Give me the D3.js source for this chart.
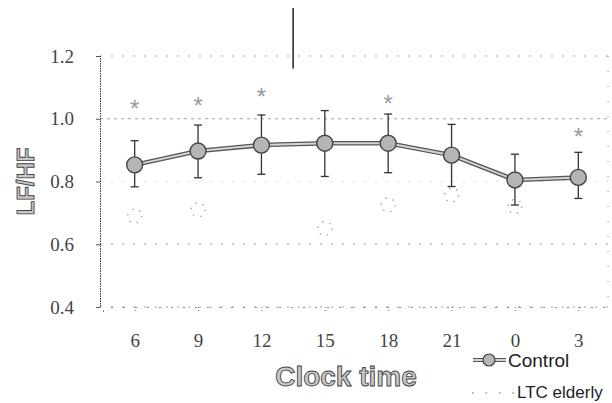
<!DOCTYPE html>
<html>
<head>
<meta charset="utf-8">
<script src="https://cdn.jsdelivr.net/npm/d3@7"></script>
<style>
  body { margin: 0; background: #fff; }
  svg { display: block; }
</style>
</head>
<body>
<svg id="chart" width="612" height="403"></svg>
<script>
// clock hours on the x axis
const hours = ['6', '9', '12', '15', '18', '21', '0', '3']
// Control: mean LF/HF and error bar ends
const controlMean = [0.853, 0.897, 0.916, 0.922, 0.922, 0.884, 0.805, 0.813]
const controlHigh = [0.930, 0.980, 1.012, 1.026, 1.015, 0.982, 0.887, 0.893]
const controlLow  = [0.783, 0.812, 0.823, 0.816, 0.828, 0.784, 0.725, 0.746]
// LTC elderly (barely visible in the scan)
const ltcMean = [0.69, 0.71, null, 0.65, 0.725, 0.757, 0.72, null]
// significance marks and their heights
const starHours = ['6', '9', '12', '18', '3']
const starLevel = [1.044, 1.054, 1.081, 1.060, 0.953]
const yTicks = [0.4, 0.6, 0.8, 1.0, 1.2]

const svg = d3.select('#chart')

const x = d3.scalePoint().domain(hours).range([103, 610]).padding(0.5)
const y = d3.scaleLinear().domain([0.4, 1.2]).range([307, 56])

// grid lines (dotted, washed out like the scan)
svg.append('g')
    .selectAll('line')
    .data(yTicks)
    .join('line')
    .attr('x1', 100).attr('x2', 608)
    .attr('y1', d => y(d)).attr('y2', d => y(d))
    .attr('stroke', '#777')
    .attr('stroke-width', 1)
    .attr('stroke-dasharray', d => d === 1.0 ? '3,4' : '2,9')
    .attr('opacity', d => d === 0.8 ? 0.25 : 0.7)

// right edge, very faint
svg.append('line')
    .attr('x1', 608).attr('x2', 608)
    .attr('y1', y(1.2)).attr('y2', y(0.4))
    .attr('stroke', '#888').attr('stroke-dasharray', '1,14')

// y axis
const yAxis = svg.append('g')
    .attr('transform', 'translate(100,0)')
    .call(d3.axisLeft(y).tickValues(yTicks).tickFormat(d3.format('.1f')).tickSize(4).tickPadding(22))
yAxis.select('.domain')
    .attr('stroke', '#333').attr('stroke-dasharray', '1.5,1')
yAxis.selectAll('.tick line').attr('stroke', '#555')
yAxis.selectAll('.tick text')
    .attr('font-family', 'Liberation Serif, serif')
    .attr('font-size', 19)
    .attr('fill', '#444')

// x axis
const xAxis = svg.append('g')
    .attr('transform', `translate(0,${y(0.4)})`)
    .call(d3.axisBottom(x).tickSize(5).tickPadding(22))
xAxis.select('.domain')
    .attr('stroke', '#888').attr('stroke-dasharray', '2,10')
xAxis.selectAll('.tick line').attr('stroke', '#777').attr('stroke-dasharray', '1,2')
xAxis.selectAll('.tick text')
    .attr('font-family', 'Liberation Serif, serif')
    .attr('font-size', 19)
    .attr('fill', '#444')

// stray vertical mark from the scan
svg.append('line')
    .attr('x1', (x('12') + x('15')) / 2).attr('x2', (x('12') + x('15')) / 2)
    .attr('y1', 8).attr('y2', y(1.16))
    .attr('stroke', '#222').attr('stroke-width', 1.5)

// LTC elderly ghost points
const ltc = hours.map((h, i) => ({ h, v: ltcMean[i] })).filter(d => d.v != null)
svg.append('g')
    .selectAll('circle')
    .data(ltc)
    .join('circle')
    .attr('cx', d => x(d.h)).attr('cy', d => y(d.v))
    .attr('r', 7)
    .attr('fill', 'none')
    .attr('stroke', '#999')
    .attr('stroke-width', 1.2)
    .attr('stroke-dasharray', '1.5,6')

// error bars
const ctrl = hours.map((h, i) => ({ h, v: controlMean[i], hi: controlHigh[i], lo: controlLow[i] }))
const eb = svg.append('g').attr('stroke', '#333').attr('stroke-width', 1.3)
eb.selectAll('.stem')
    .data(ctrl)
    .join('line')
    .attr('x1', d => x(d.h)).attr('x2', d => x(d.h))
    .attr('y1', d => y(d.hi)).attr('y2', d => y(d.lo))
eb.selectAll('.capHi')
    .data(ctrl)
    .join('line')
    .attr('x1', d => x(d.h) - 4).attr('x2', d => x(d.h) + 4)
    .attr('y1', d => y(d.hi)).attr('y2', d => y(d.hi))
eb.selectAll('.capLo')
    .data(ctrl)
    .join('line')
    .attr('x1', d => x(d.h) - 4).attr('x2', d => x(d.h) + 4)
    .attr('y1', d => y(d.lo)).attr('y2', d => y(d.lo))

// control line: dark outline with light core
const line = d3.line().x(d => x(d.h)).y(d => y(d.v))
svg.append('path').datum(ctrl)
    .attr('d', line).attr('fill', 'none')
    .attr('stroke', '#555').attr('stroke-width', 4.5)
svg.append('path').datum(ctrl)
    .attr('d', line).attr('fill', 'none')
    .attr('stroke', '#d4d4d4').attr('stroke-width', 2)

svg.append('g')
    .selectAll('circle')
    .data(ctrl)
    .join('circle')
    .attr('cx', d => x(d.h)).attr('cy', d => y(d.v))
    .attr('r', 8)
    .attr('fill', '#b5b5b5')
    .attr('stroke', '#444')
    .attr('stroke-width', 1.4)

// asterisks
svg.append('g')
    .selectAll('text')
    .data(starHours.map((h, i) => ({ h, v: starLevel[i] })))
    .join('text')
    .attr('x', d => x(d.h)).attr('y', d => y(d.v) + 12)
    .attr('text-anchor', 'middle')
    .attr('font-family', 'Liberation Sans, sans-serif')
    .attr('font-size', 24)
    .attr('fill', '#999')
    .text('*')

// axis titles
svg.append('text')
    .attr('transform', `translate(34,${y(0.8)}) rotate(-90)`)
    .attr('text-anchor', 'middle')
    .attr('font-family', 'Liberation Sans, sans-serif')
    .attr('font-weight', 'bold')
    .attr('font-size', 24)
    .attr('fill', '#c8c8c8')
    .attr('stroke', '#444')
    .attr('stroke-width', 0.9)
    .text('LF/HF')

svg.append('text')
    .attr('x', 346).attr('y', 386)
    .attr('text-anchor', 'middle')
    .attr('font-family', 'Liberation Sans, sans-serif')
    .attr('font-weight', 'bold')
    .attr('font-size', 28)
    .attr('fill', '#c8c8c8')
    .attr('stroke', '#444')
    .attr('stroke-width', 0.9)
    .text('Clock time')

// legend
const lg = svg.append('g')
lg.append('line')
    .attr('x1', 473).attr('x2', 506).attr('y1', 360).attr('y2', 360)
    .attr('stroke', '#555').attr('stroke-width', 4)
lg.append('line')
    .attr('x1', 473).attr('x2', 506).attr('y1', 360).attr('y2', 360)
    .attr('stroke', '#d4d4d4').attr('stroke-width', 1.8)
lg.append('circle')
    .attr('cx', 489).attr('cy', 360).attr('r', 6)
    .attr('fill', '#b5b5b5').attr('stroke', '#444').attr('stroke-width', 1.2)
lg.append('text')
    .attr('x', 508).attr('y', 367)
    .attr('font-family', 'Liberation Sans, sans-serif')
    .attr('font-size', 19)
    .attr('fill', '#222')
    .text('Control')

lg.append('line')
    .attr('x1', 472).attr('x2', 514).attr('y1', 393).attr('y2', 393)
    .attr('stroke', '#999').attr('stroke-width', 1.5)
    .attr('stroke-dasharray', '1.5,12')
lg.append('text')
    .attr('x', 517).attr('y', 398)
    .attr('font-family', 'Liberation Sans, sans-serif')
    .attr('font-size', 17)
    .attr('fill', '#222')
    .text('LTC elderly')
</script>
</body>
</html>
